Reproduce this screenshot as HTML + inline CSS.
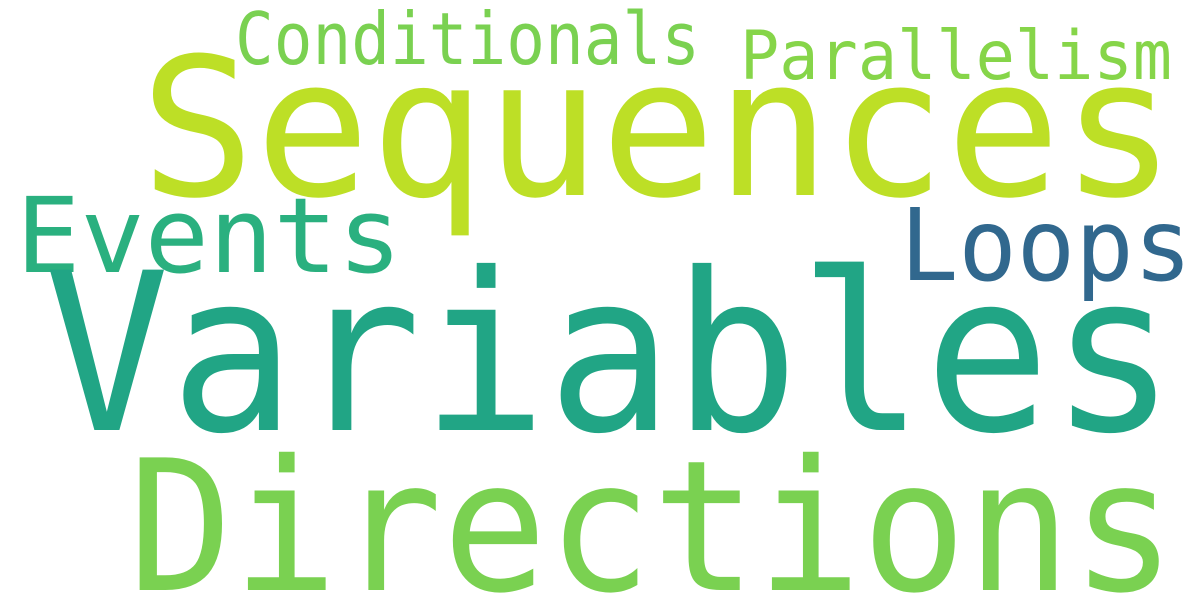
<!DOCTYPE html>
<html><head><meta charset="utf-8"><style>
html,body{margin:0;padding:0;background:#fff;width:1200px;height:600px;overflow:hidden;}
svg{display:block}
text{font-family:"DejaVu Sans Mono","Liberation Mono",monospace;}
</style></head><body>
<svg width="1200" height="600" viewBox="0 0 1200 600" xmlns="http://www.w3.org/2000/svg">
<rect width="1200" height="600" fill="#fff"/>
<text x="235" y="64" font-size="72" fill="#7ad151" textLength="465" lengthAdjust="spacingAndGlyphs">Conditionals</text>
<text x="740" y="79" font-size="68" fill="#86d549" textLength="432" lengthAdjust="spacingAndGlyphs">Parallelism</text>
<text x="140" y="195" font-size="192" fill="#bddf26" textLength="1036" lengthAdjust="spacingAndGlyphs">Sequences</text>
<text x="16" y="272" font-size="104" fill="#2ab07f" textLength="386" lengthAdjust="spacingAndGlyphs">Events</text>
<text x="900" y="280" font-size="100" fill="#31688e" textLength="292" lengthAdjust="spacingAndGlyphs">Loops</text>
<text x="44" y="430" font-size="220" fill="#21a585" textLength="1132" lengthAdjust="spacingAndGlyphs">Variables</text>
<text x="128" y="590" font-size="182" fill="#7ad151" textLength="1048" lengthAdjust="spacingAndGlyphs">Directions</text>
</svg>
</body></html>
